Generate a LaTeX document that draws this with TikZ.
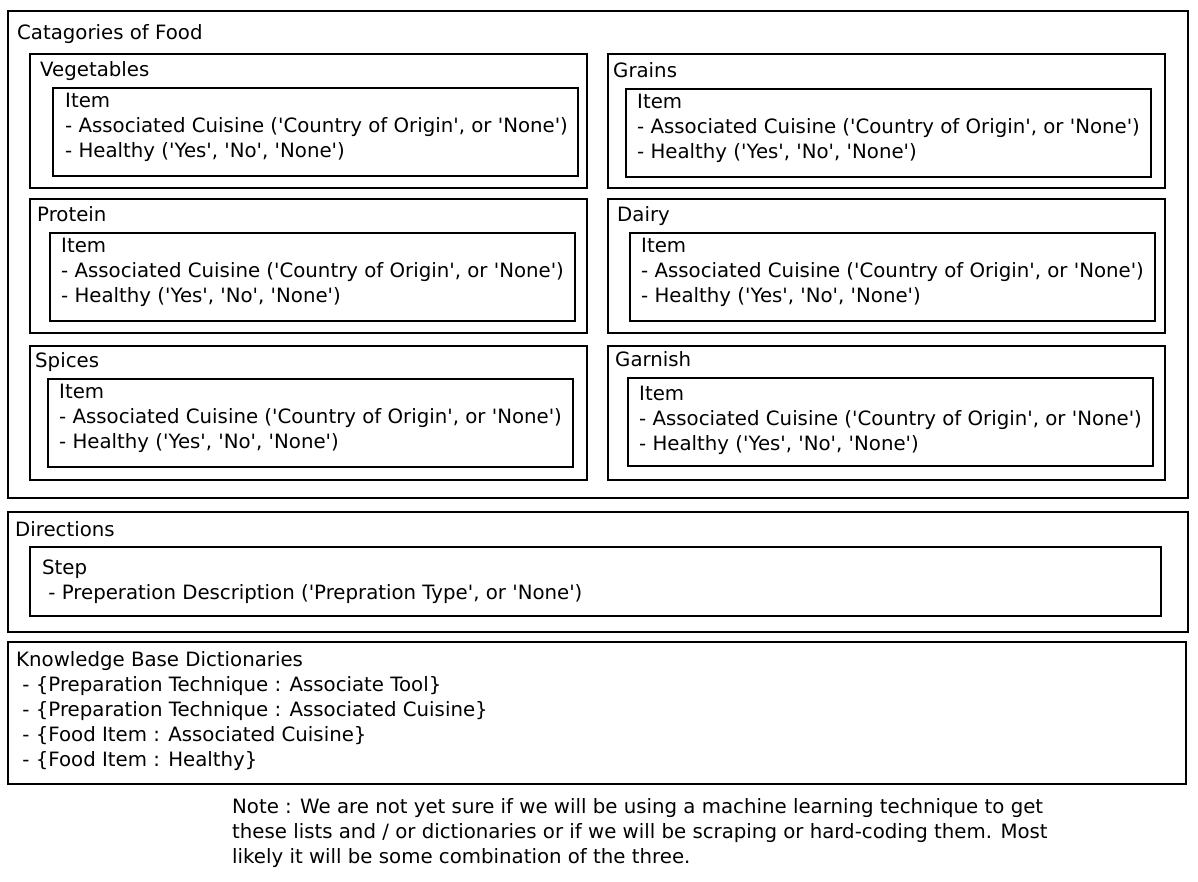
\documentclass[tikz,border=0pt]{standalone}
\usepackage{fontspec}
\newfontfamily\dejavu{DejaVu Sans}

\begin{document}
\begin{tikzpicture}[x=1pt, y=-1pt,
    frame/.style={rectangle, draw, line width=1.5pt, anchor=north west, inner sep=0pt},
    catbox/.style={frame, minimum width=557, minimum height=134},
    itembox/.style={frame, minimum width=525, minimum height=88},
    title/.style={anchor=base west, inner sep=0pt, font=\dejavu\fontsize{19.75}{25}\selectfont},
    entry/.style={title, align=left}
]
\useasboundingbox (0,0) rectangle (1198,881);

% Categories (entry nodes sit on the baseline of their last line)
\node[frame, minimum width=1180, minimum height=487] (food) at (7,10) {};
\node[title] (foodt) at (17,39) {Catagories of Food};

\node[catbox] (veg) at (29,53) {};
\node[title] (vegt) at (40,76) {Vegetables};
\node[itembox] (vegi) at (52,87) {};
\node[entry] (vegx) at (65,157) {Item\\- Associated Cuisine ('Country of Origin', or 'None')\\- Healthy ('Yes', 'No', 'None')};

\node[catbox] (grn) at (607,53) {};
\node[title] (grnt) at (613,77) {Grains};
\node[itembox] (grni) at (625,88) {};
\node[entry] (grnx) at (637,158) {Item\\- Associated Cuisine ('Country of Origin', or 'None')\\- Healthy ('Yes', 'No', 'None')};

\node[catbox] (pro) at (29,198) {};
\node[title] (prot) at (37,221) {Protein};
\node[itembox] (proi) at (49,232) {};
\node[entry] (prox) at (61,302) {Item\\- Associated Cuisine ('Country of Origin', or 'None')\\- Healthy ('Yes', 'No', 'None')};

\node[catbox] (dai) at (607,198) {};
\node[title] (dait) at (617,221) {Dairy};
\node[itembox] (daii) at (629,232) {};
\node[entry] (daix) at (641,302) {Item\\- Associated Cuisine ('Country of Origin', or 'None')\\- Healthy ('Yes', 'No', 'None')};

\node[catbox] (spi) at (29,345) {};
\node[title] (spit) at (35,367) {Spices};
\node[itembox] (spii) at (47,378) {};
\node[entry] (spix) at (59,448) {Item\\- Associated Cuisine ('Country of Origin', or 'None')\\- Healthy ('Yes', 'No', 'None')};

\node[catbox] (gar) at (607,345) {};
\node[title] (gart) at (615,366) {Garnish};
\node[itembox] (gari) at (627,377) {};
\node[entry] (garx) at (639,450) {Item\\- Associated Cuisine ('Country of Origin', or 'None')\\- Healthy ('Yes', 'No', 'None')};

% Directions
\node[frame, minimum width=1180, minimum height=120] (dir) at (7,511) {};
\node[title] (dirt) at (15,536) {Directions};
\node[frame, minimum width=1131, minimum height=69] (step) at (29,546) {};
\node[entry] (stepx) at (42,599) {Step\\\ - Preperation Description ('Prepration Type', or 'None')};

% Knowledge base
\node[frame, minimum width=1178, minimum height=142] (kb) at (7,641) {};
\node[entry] (kbx) at (16,766) {Knowledge Base Dictionaries\\\ - \{Preparation Technique : Associate Tool\}\\\ - \{Preparation Technique : Associated Cuisine\}\\\ - \{Food Item : Associated Cuisine\}\\\ - \{Food Item : Healthy\}};

% Note
\node[entry] (nt) at (232,863) {Note : We are not yet sure if we will be using a machine learning technique to get\\these lists and / or dictionaries or if we will be scraping or hard-coding them. Most\\likely it will be some combination of the three.};

\end{tikzpicture}
\end{document}
